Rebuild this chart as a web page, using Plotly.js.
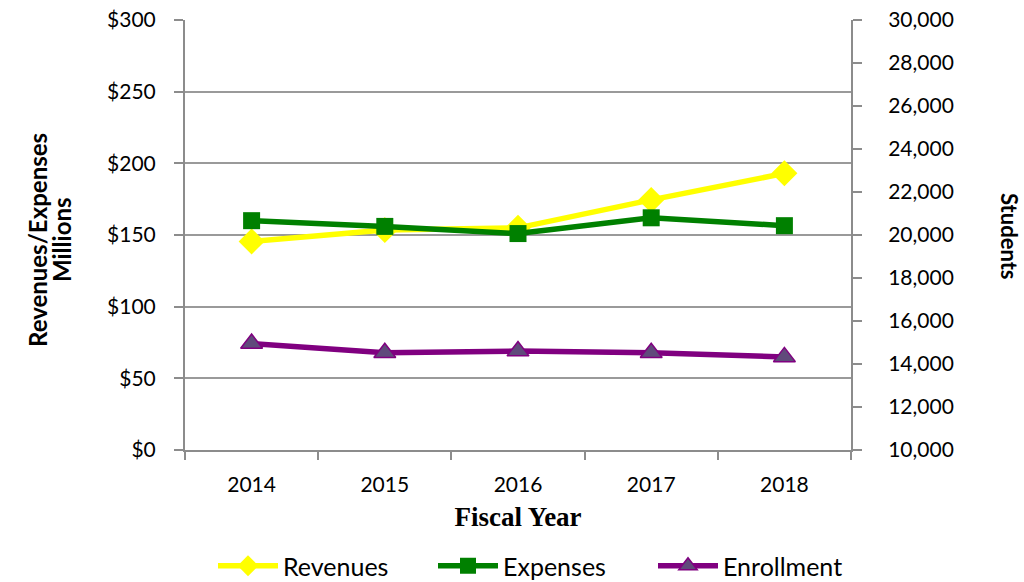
<!DOCTYPE html>
<html>
<head>
<meta charset="utf-8">
<script src="https://cdn.plot.ly/plotly-3.0.1.min.js"></script>
<style>html,body{margin:0;padding:0;background:#fff;}#chart{width:1024px;height:582px;}</style>
</head>
<body>
<div id="chart"></div>
<script>
const years = ["2014", "2015", "2016", "2017", "2018"];
const revenues = [145.5, 153.5, 155, 174.5, 193];
const expenses = [160, 156, 151, 162, 156.5];
const enrollment = [14950, 14520, 14600, 14520, 14330];

const sans = "Lato, 'Open Sans', sans-serif";
const tickFont = {family: sans, size: 21, color: "#000"};

const traces = [
  {x: years, y: revenues, name: "Revenues", type: "scatter", mode: "lines+markers",
   line: {color: "#FFFF00", width: 5.5}, marker: {symbol: "diamond", size: 20, color: "#FFFF00"}},
  {x: years, y: expenses, name: "Expenses", type: "scatter", mode: "lines+markers",
   line: {color: "#008000", width: 5.5}, marker: {symbol: "square", size: 17, color: "#008000"}},
  {x: years, y: enrollment, name: "Enrollment", type: "scatter", mode: "lines+markers", yaxis: "y2",
   line: {color: "#800080", width: 5.5}, marker: {symbol: "triangle-up", size: 19, color: "#604A7B", line: {color: "#800080", width: 1.5}}}
];

const layout = {
  width: 1024, height: 582,
  margin: {l: 185, r: 173, t: 20, b: 132},
  paper_bgcolor: "#fff", plot_bgcolor: "#fff",
  showlegend: true,
  legend: {orientation: "h", x: 543 / 1024, xanchor: "center", xref: "container", y: 16 / 582, yref: "container", yanchor: "middle",
           font: {family: sans, size: 25, color: "#000"}, entrywidth: 145, itemwidth: 60, tracegroupgap: 0},
  xaxis: {type: "category", range: [-0.5, 4.5], showline: true, linecolor: "#8c8c8c", linewidth: 2,
          ticks: "outside", tickson: "boundaries", ticklen: 8, tickcolor: "#8c8c8c", tickwidth: 2,
          showgrid: false, tickfont: tickFont, zeroline: false, ticklabelstandoff: 15,
          title: {text: "Fiscal Year", font: {family: "'Liberation Serif', serif", size: 27, color: "#000", weight: "bold"}, standoff: 12}},
  yaxis: {range: [0, 300], dtick: 50, tickprefix: "$", showline: true, linecolor: "#8c8c8c", linewidth: 2,
          ticks: "outside", ticklen: 9, tickcolor: "#8c8c8c", tickwidth: 2, showgrid: true, gridcolor: "#9a9a9a", gridwidth: 2,
          zeroline: false, tickfont: tickFont, ticklabelstandoff: 14},
  yaxis2: {range: [10000, 30000], dtick: 2000, tickformat: ",d", overlaying: "y", side: "right", showline: true,
           linecolor: "#8c8c8c", linewidth: 2, ticks: "outside", ticklen: 9, tickcolor: "#8c8c8c", tickwidth: 2,
           showgrid: false, zeroline: false, tickfont: tickFont, ticklabelstandoff: 22},
  annotations: [
    {text: "<b>Revenues/Expenses</b>", textangle: -90, xref: "paper", yref: "paper", x: (37 - 185) / 666, y: (450 - 240) / 430,
     xanchor: "center", yanchor: "middle", showarrow: false, font: {family: sans, size: 24, color: "#000"}},
    {text: "<b>Millions</b>", textangle: -90, xref: "paper", yref: "paper", x: (61 - 185) / 666, y: (450 - 240) / 430,
     xanchor: "center", yanchor: "middle", showarrow: false, font: {family: sans, size: 24, color: "#000"}},
    {text: "<b>Students</b>", textangle: 90, xref: "paper", yref: "paper", x: (1010 - 185) / 666, y: (450 - 236) / 430,
     xanchor: "center", yanchor: "middle", showarrow: false, font: {family: sans, size: 22, color: "#000"}}
  ]
};

Plotly.newPlot("chart", traces, layout, {displayModeBar: false, staticPlot: true});
</script>
</body>
</html>
